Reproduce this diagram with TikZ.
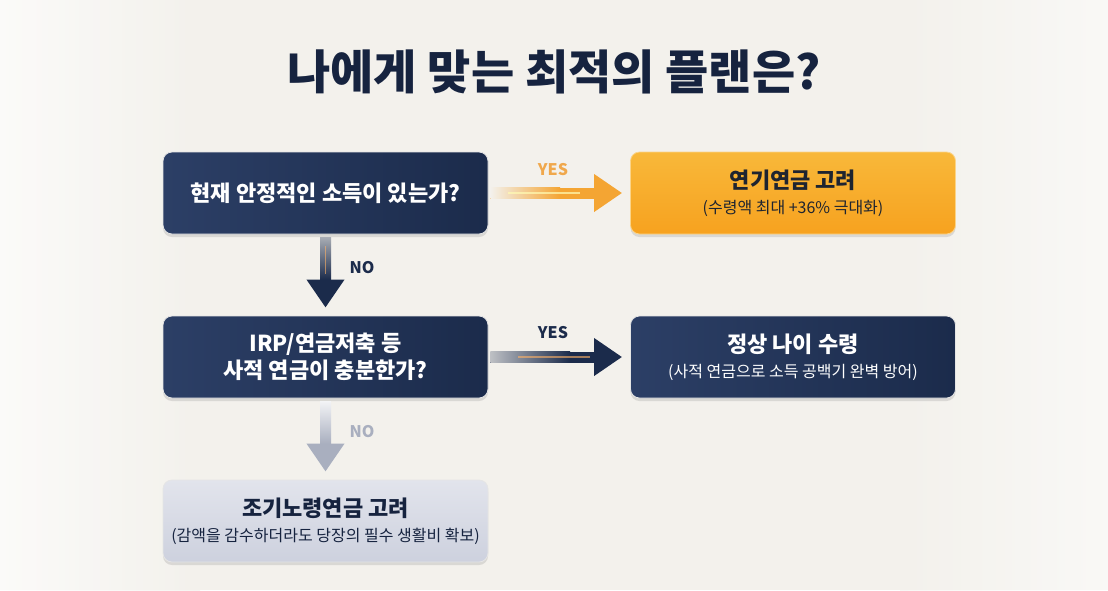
\documentclass[tikz,border=0pt]{standalone}
\usepackage{fontspec}
\setmainfont{Noto Sans CJK KR}
\usetikzlibrary{arrows.meta,shadows,positioning}
\definecolor{bgc}{HTML}{F3F1EC}
\definecolor{navy}{HTML}{1B2B4B}
\definecolor{navyL}{HTML}{2C3F66}
\definecolor{titlec}{HTML}{16233F}
\definecolor{orA}{HTML}{F8B83A}
\definecolor{orB}{HTML}{F7A21F}
\definecolor{orArrow}{HTML}{F4A533}
\definecolor{yesor}{HTML}{F0A84C}
\definecolor{grayA}{HTML}{E2E4EC}
\definecolor{grayB}{HTML}{CDD1DE}
\definecolor{grayArrow}{HTML}{A9AFBF}
\definecolor{darktxt}{HTML}{1E2430}
\newcommand{\subl}[1]{{\fontsize{16}{20}\selectfont\mdseries #1}}
\begin{document}
\begin{tikzpicture}[x=1pt,y=-1pt,
  box/.style={rounded corners=9pt, minimum width=325pt, minimum height=82pt, align=center,
    draw=white!80!gray, line width=0.8pt, inner sep=0pt,
    font=\fontsize{22}{27}\selectfont\bfseries,
    drop shadow={opacity=0.22, shadow xshift=0pt, shadow yshift=-3pt}},
  navybox/.style={box, left color=navyL, right color=navy, text=white},
  orbox/.style={box, top color=orA, bottom color=orB, text=darktxt, draw=orA!60!white},
  graybox/.style={box, top color=grayA, bottom color=grayB, text=titlec},
  lab/.style={font=\fontsize{16}{18}\selectfont\bfseries},
  bigarrow/.style={line width=11pt, -{Triangle[length=28pt,width=36pt]}},
]
% background
\fill[bgc] (0,0) rectangle (1108,590);
\shade[left color=white, right color=bgc, opacity=0.7] (0,0) rectangle (200,590);
\shade[left color=bgc, right color=white, opacity=0.55] (900,0) rectangle (1108,590);
\useasboundingbox (0,0) rectangle (1108,590);

% title
\node[text=titlec, font=\fontsize{47}{52}\selectfont\bfseries] (title) at (554,72) {나에게 맞는 최적의 플랜은?};

% boxes
\node[navybox] (b1) at (325.5,193) {현재 안정적인 소득이 있는가?};
\node[orbox] (b2) at (793,193) {연기연금 고려\\[-2pt]\subl{(수령액 최대 +36\% 극대화)}};
\node[navybox] (b3) at (325.5,357) {IRP/연금저축 등\\ 사적 연금이 충분한가?};
\node[navybox] (b4) at (793,357) {정상 나이 수령\\[-2pt]\subl{(사적 연금으로 소득 공백기 완벽 방어)}};
\node[graybox] (b5) at (325.5,521) {조기노령연금 고려\\[-2pt]\subl{(감액을 감수하더라도 당장의 필수 생활비 확보)}};

% arrows
\draw[bigarrow, orArrow] ([xshift=2pt]b1.east) -- ([xshift=-8pt]b2.west);
\shade[left color=bgc, right color=orArrow] ([xshift=2pt,yshift=-5.5pt]b1.east) rectangle ([xshift=-70pt,yshift=5.5pt]b2.west);
\draw[white!70!yellow, line width=1.5pt, opacity=0.7] ([xshift=20pt]b1.east) -- ([xshift=-50pt]b2.west);

\draw[bigarrow, navy] ([xshift=2pt]b3.east) -- ([xshift=-8pt]b4.west);
\shade[left color=navy!25!bgc, right color=navy] ([xshift=2pt,yshift=-5.5pt]b3.east) rectangle ([xshift=-60pt,yshift=5.5pt]b4.west);
\draw[orange!60!white, line width=1.2pt, opacity=0.6] ([xshift=30pt]b3.east) -- ([xshift=-40pt]b4.west);

\draw[bigarrow, navy] ([yshift=-3pt]b1.south) -- ([yshift=8pt]b3.north);
\shade[top color=navy!35!bgc, bottom color=navy] ([xshift=-5.5pt,yshift=-3pt]b1.south) rectangle ([xshift=5.5pt,yshift=36pt]b3.north);
\draw[orange!60!white, line width=1.2pt, opacity=0.6] ([yshift=-12pt]b1.south) -- ([yshift=42pt]b3.north);

\draw[bigarrow, grayArrow] ([yshift=-3pt]b3.south) -- ([yshift=8pt]b5.north);
\shade[top color=white!85!grayArrow, bottom color=grayArrow] ([xshift=-5.5pt,yshift=-3pt]b3.south) rectangle ([xshift=5.5pt,yshift=36pt]b5.north);

% labels
\node[lab, text=yesor] (y1) at (553,170) {YES};
\node[lab, text=navy] (y2) at (553,333) {YES};
\node[lab, text=navy] (n1) at (362,268) {NO};
\node[lab, text=grayArrow] (n2) at (362,432) {NO};
\end{tikzpicture}
\end{document}
